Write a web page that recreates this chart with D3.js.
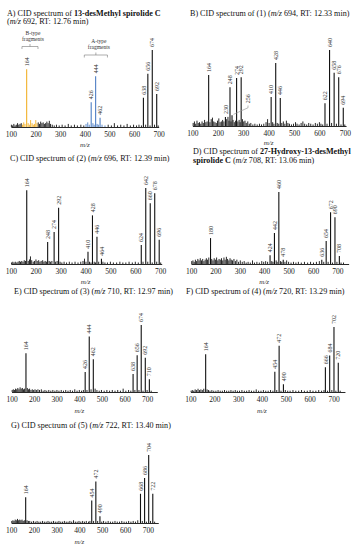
<!DOCTYPE html>
<html>
<head>
<meta charset="utf-8">
<script src="https://cdn.jsdelivr.net/npm/d3@7"></script>
<style>
body { margin: 0; background: #fff; }
svg { display: block; font-family: "Liberation Serif", "DejaVu Serif", serif; }
.title { font-size: 8.1px; fill: #111; }
.peak-label { font-size: 6px; fill: #333; }
.mz { font-size: 7px; font-style: italic; fill: #333; }
.frag { font-size: 5.5px; fill: #333; }
.tick text { fill: #222 !important; }
</style>
</head>
<body>
<div class="container"></div>
<script>
// tick labels shared by all panels
var tickValues = [100, 200, 300, 400, 500, 600, 700]

// titles: each line is a list of [text, format]
var titleA = [[["A) CID spectrum of ", ""], ["13-desMethyl spirolide C", "b"]],
              [["(", ""], ["m/z", "i"], [" 692, RT: 12.76 min)", ""]]]
var titleB = [[["B) CID spectrum of (1) (", ""], ["m/z", "i"], [" 694, RT: 12.33 min)", ""]]]
var titleC = [[["C) CID spectrum of (2) (", ""], ["m/z", "i"], [" 696, RT: 12.39 min)", ""]]]
var titleD = [[["D) CID spectrum of ", ""], ["27-Hydroxy-13-desMethyl", "b"]],
              [["spirolide C", "b"], [" (", ""], ["m/z", "i"], [" 708, RT: 13.06 min)", ""]]]
var titleE = [[["E) CID spectrum of (3) (", ""], ["m/z", "i"], [" 710, RT: 12.97 min)", ""]]]
var titleF = [[["F) CID spectrum of (4) (", ""], ["m/z", "i"], [" 720, RT: 13.29 min)", ""]]]
var titleG = [[["G) CID spectrum of (5) (", ""], ["m/z", "i"], [" 722, RT: 13.40 min)", ""]]]

// labelled fragment peaks: [m/z, relative intensity %]
var peaksA = [[164, 75], [426, 32], [444, 66], [462, 12], [638, 38], [656, 69], [674, 100], [692, 43]]
var peaksB = [[164, 67], [230, 12], [248, 51], [256, 14], [274, 63], [292, 64], [410, 38], [428, 83],
              [446, 37], [622, 30], [640, 100], [658, 70], [676, 64], [694, 24]]
var peaksC = [[164, 97], [248, 29], [274, 42], [292, 74], [410, 16], [428, 64], [446, 36], [464, 7],
              [624, 25], [642, 100], [660, 80], [678, 93], [696, 32]]
var peaksD = [[180, 36], [424, 12], [442, 43], [460, 100], [478, 6], [636, 6], [654, 32], [672, 72],
              [690, 65], [708, 11]]
var peaksE = [[164, 58], [426, 30], [444, 83], [462, 49], [638, 27], [656, 55], [674, 100], [692, 51], [710, 19]]
var peaksF = [[164, 58], [454, 31], [472, 71], [490, 12], [666, 38], [684, 56], [702, 100], [720, 45]]
var peaksG = [[164, 38], [454, 33], [472, 61], [490, 10], [668, 43], [686, 66], [704, 100], [722, 43]]

// unlabelled background ions: [m/z, relative intensity %]
var noiseA = [[102,3],[107,2],[112,4],[117,2],[122,3],[127,5],[132,3],[137,4],[142,5],[147,3],[152,6],[157,4],
  [170,5],[175,3],[180,9],[186,5],[191,3],[196,4],[201,9],[206,5],[211,6],[216,4],[221,7],[226,5],[231,6],
  [236,4],[241,5],[246,7],[251,5],[256,8],[261,4],[268,3],[276,2],[285,3],[296,2],[308,3],[320,2],[333,4],
  [345,2],[358,3],[370,2],[384,3],[396,2],[405,4],[412,6],[418,3],[433,5],[438,3],[450,4],[455,3],[470,3],
  [482,2],[495,3],[508,2],[520,5],[533,2],[546,3],[559,2],[572,4],[585,2],[598,3],[610,2],[620,3],[630,2],
  [647,3],[665,2],[683,3],[698,2]]
var noiseB = [[103,4],[108,6],[113,3],[118,7],[123,4],[128,5],[133,3],[138,6],[143,4],[148,8],[153,5],[158,6],
  [169,5],[174,9],[179,11],[184,6],[189,5],[194,4],[199,7],[204,10],[209,5],[214,6],[219,8],[224,6],[235,9],
  [240,12],[244,7],[252,6],[260,8],[265,5],[270,7],[279,6],[284,8],[288,5],[297,9],[302,6],[307,7],[312,4],
  [318,6],[324,3],[330,4],[338,2],[346,3],[355,2],[364,3],[372,2],[381,3],[390,5],[396,9],[402,4],[416,5],
  [421,3],[434,4],[440,3],[452,4],[458,6],[464,3],[470,7],[476,4],[482,3],[490,2],[498,3],[506,5],[512,3],
  [520,2],[528,4],[535,6],[542,3],[550,2],[558,4],[566,3],[575,2],[584,4],[592,3],[600,5],[606,3],[613,2],
  [630,3],[648,4],[667,3],[685,2],[700,2]]
var noiseC = [[103,2],[108,3],[113,2],[118,3],[124,2],[129,3],[134,4],[139,3],[144,4],[149,3],[154,5],[159,4],
  [170,4],[175,6],[179,10],[184,5],[190,3],[195,4],[201,6],[206,4],[212,5],[217,3],[222,4],[228,5],[233,3],
  [238,4],[243,3],[254,4],[259,3],[265,4],[280,3],[286,4],[298,3],[305,2],[314,3],[324,2],[335,3],[346,2],
  [358,3],[370,2],[381,3],[390,4],[396,7],[402,3],[416,3],[422,2],[435,3],[440,2],[453,3],[470,3],[478,2],
  [488,2],[500,3],[512,2],[525,2],[538,3],[550,2],[562,2],[575,3],[588,2],[600,3],[612,2],[631,3],[650,3],
  [668,2],[686,3],[702,2]]
var noiseD = [[103,4],[108,5],[113,3],[118,6],[123,4],[128,7],[133,5],[138,8],[143,5],[148,7],[153,4],[158,6],
  [163,8],[168,6],[173,9],[185,7],[190,5],[195,8],[200,6],[205,9],[210,5],[215,7],[220,6],[225,8],[230,5],
  [235,9],[240,6],[245,10],[250,7],[255,5],[260,8],[265,6],[270,5],[276,7],[282,4],[288,6],[295,3],[302,5],
  [310,3],[318,4],[326,2],[334,3],[343,2],[352,5],[360,2],[370,3],[380,2],[390,4],[398,3],[406,4],[414,3],
  [431,4],[436,3],[449,5],[453,3],[467,4],[472,3],[485,3],[492,5],[500,3],[510,2],[520,3],[530,2],[540,3],
  [552,2],[565,3],[578,2],[590,3],[602,2],[614,3],[626,4],[644,3],[662,3],[680,2],[698,3],[715,2],[725,2]]
var noiseE = [[103,3],[108,4],[113,3],[118,5],[123,4],[128,6],[133,4],[138,7],[143,5],[148,6],[153,4],[158,5],
  [170,6],[175,4],[180,5],[186,3],[192,4],[198,3],[204,4],[210,3],[217,4],[224,3],[232,4],[240,2],[248,3],
  [256,2],[265,3],[274,2],[283,3],[292,2],[301,3],[310,2],[320,3],[330,2],[340,3],[350,2],[360,3],[370,2],
  [380,4],[390,2],[400,3],[410,2],[418,3],[434,3],[452,4],[470,5],[478,3],[488,2],[498,3],[510,2],[522,3],
  [534,2],[546,3],[558,2],[570,3],[582,2],[594,5],[606,2],[618,3],[628,2],[646,3],[664,3],[682,2],[700,3],
  [718,2]]
var noiseF = [[103,2],[108,3],[114,2],[120,4],[126,3],[132,5],[138,3],[144,4],[150,3],[156,5],[170,4],[176,3],
  [182,2],[190,3],[198,2],[207,2],[216,3],[225,2],[234,2],[243,3],[252,2],[261,2],[270,3],[279,2],[288,3],
  [297,2],[306,2],[316,3],[326,2],[336,2],[346,3],[356,2],[366,2],[376,4],[386,2],[396,2],[406,3],[416,2],
  [426,2],[436,3],[446,2],[462,3],[480,2],[498,3],[508,2],[518,2],[530,3],[542,2],[554,2],[566,3],[578,2],
  [590,2],[602,3],[614,2],[626,2],[638,3],[650,2],[660,3],[675,2],[693,3],[710,2],[728,2]]
var noiseG = [[103,3],[108,4],[113,3],[118,5],[123,4],[128,6],[133,4],[138,5],[143,4],[148,5],[153,3],[158,4],
  [170,4],[176,3],[182,3],[190,2],[198,3],[206,2],[214,3],[222,2],[230,2],[238,3],[246,2],[254,2],[262,3],
  [270,2],[278,2],[286,3],[294,2],[302,2],[310,3],[318,2],[326,2],[334,3],[342,2],[350,2],[358,3],[366,2],
  [374,4],[382,2],[390,2],[398,3],[406,2],[414,3],[422,2],[430,3],[440,2],[446,3],[462,3],[480,3],[498,2],
  [506,3],[516,2],[526,3],[536,2],[546,2],[556,3],[566,2],[576,2],[586,3],[596,2],[606,2],[616,3],[626,2],
  [636,3],[646,2],[656,4],[676,3],[694,2],[712,3],[730,2]]

// fragment families marked in panel A: [name, m/z from, m/z to]
var fragTypes = [["B-type", 145, 210], ["A-type", 398, 492]]

var colors = { "B-type": "#f2b12a", "A-type": "#4f7fc4", other: "#111" }

var svg = d3.select(".container").append("svg")
    .attr("width", 358)
    .attr("height", 550)

// ---------- PANEL LAYOUT ----------
var panels = [
  { id: "A", title: titleA, peaks: peaksA, noise: noiseA, x0: 10.9, k: 0.2463, max: 700, base: 127, top: 50, tx: 7, ty: 15.5, mzy: 19.5 },
  { id: "B", title: titleB, peaks: peaksB, noise: noiseB, x0: 192.4, k: 0.254, max: 705, base: 126, top: 50, tx: 190, ty: 16, mzy: 18.5 },
  { id: "C", title: titleC, peaks: peaksC, noise: noiseC, x0: 10.8, k: 0.249, max: 706, base: 264, top: 188, tx: 10, ty: 160.5, mzy: 19.5 },
  { id: "D", title: titleD, peaks: peaksD, noise: noiseD, x0: 191, k: 0.244, max: 746, base: 264, top: 192, tx: 193, ty: 154, mzy: 19.5 },
  { id: "E", title: titleE, peaks: peaksE, noise: noiseE, x0: 11.5, k: 0.226, max: 745, base: 392, top: 325, tx: 14, ty: 294, mzy: 21 },
  { id: "F", title: titleF, peaks: peaksF, noise: noiseF, x0: 190.4, k: 0.2385, max: 748, base: 392, top: 327, tx: 186, ty: 294, mzy: 21 },
  { id: "G", title: titleG, peaks: peaksG, noise: noiseG, x0: 11.1, k: 0.2278, max: 746, base: 523, top: 455, tx: 11, ty: 428, mzy: 21 }
]

function peakColor(p, mz) {
  if (p.id != "A") return colors.other
  for (var i = 0; i < fragTypes.length; i++) {
    if (mz >= fragTypes[i][1] && mz <= fragTypes[i][2]) return colors[fragTypes[i][0]]
  }
  return colors.other
}

function drawPanel(p) {
  var x = d3.scaleLinear().domain([100, p.max]).range([p.x0, p.x0 + (p.max - 100) * p.k])
  var y = d3.scaleLinear().domain([0, 100]).range([p.base, p.top])
  var g = svg.append("g").attr("class", "panel panel-" + p.id)

  // title
  p.title.forEach(function (line, i) {
    var t = g.append("text").attr("class", "title")
      .attr("x", p.tx).attr("y", p.ty + i * 8.8)
    line.forEach(function (s) {
      t.append("tspan").text(s[0])
        .attr("font-weight", s[1] == "b" ? "bold" : null)
        .attr("font-style", s[1] == "i" ? "italic" : null)
    })
  })

  // background ions
  g.append("g").selectAll("line")
    .data(p.noise)
    .enter().append("line")
    .attr("x1", function (d) { return x(d[0]) })
    .attr("x2", function (d) { return x(d[0]) })
    .attr("y1", y(0))
    .attr("y2", function (d) { return y(d[1]) })
    .attr("stroke", function (d) { return peakColor(p, d[0]) })
    .attr("stroke-width", 0.9)

  // labelled peaks
  g.append("g").selectAll("line")
    .data(p.peaks)
    .enter().append("line")
    .attr("x1", function (d) { return x(d[0]) })
    .attr("x2", function (d) { return x(d[0]) })
    .attr("y1", y(0))
    .attr("y2", function (d) { return y(d[1]) })
    .attr("stroke", function (d) { return peakColor(p, d[0]) })
    .attr("stroke-width", 1.1)

  g.append("g").selectAll("text")
    .data(p.peaks)
    .enter().append("text")
    .attr("class", "peak-label")
    .attr("transform", function (d) {
      var lx = x(d[0]), ly = y(d[1]) - 3
      if (p.id == "B" && d[0] == 256) { lx = x(319); ly = y(30) }
      return "translate(" + lx + "," + ly + ") rotate(-90)"
    })
    .attr("dy", "0.35em")
    .text(function (d) { return d[0] })

  // leader for 256 in panel B
  if (p.id == "B") {
    g.append("polyline")
      .attr("points", [[x(319), y(27)], [x(319), y(24)], [x(256) + 1.5, y(14) - 1]].join(" "))
      .attr("fill", "none")
      .attr("stroke", "#999")
      .attr("stroke-width", 0.7)
  }

  // x axis
  var axis = g.append("g")
    .attr("transform", "translate(0," + p.base + ")")
    .call(d3.axisBottom(x).tickValues(tickValues).tickSize(0).tickPadding(5).tickFormat(d3.format("d")))
  axis.attr("font-family", null).attr("font-size", null)
  axis.select(".domain").attr("stroke", "#111").attr("stroke-width", 0.9)
  axis.selectAll(".tick text")
    .attr("fill", "#222")
    .style("fill", "#222")
    .style("font-size", "7.5px")
    .style("font-family", "'Liberation Serif', serif")

  g.append("text").attr("class", "mz")
    .attr("x", x(400)).attr("y", p.base + p.mzy)
    .attr("text-anchor", "middle")
    .text("m/z")

  // fragment family brackets
  if (p.id == "A") {
    var bracketY = { "B-type": 46.5, "A-type": 55 }
    fragTypes.forEach(function (f) {
      var x1 = x(f[1]), x2 = x(f[2]), xm = (x1 + x2) / 2, by = bracketY[f[0]]
      g.append("path")
        .attr("d", "M" + x1 + "," + (by + 2.5) + "V" + by + "H" + x2 + "V" + (by + 2.5) +
                   "M" + xm + "," + by + "V" + (by - 2.5))
        .attr("fill", "none").attr("stroke", "#777").attr("stroke-width", 0.6)
      var t = g.append("text").attr("class", "frag").attr("text-anchor", "middle")
        .attr("x", xm + 3).attr("y", by - 12)
      t.append("tspan").attr("x", xm + 3).text(f[0])
      t.append("tspan").attr("x", xm + 3).attr("dy", 6).text("fragments")
    })
  }
}

panels.forEach(drawPanel)
</script>
</body>
</html>
